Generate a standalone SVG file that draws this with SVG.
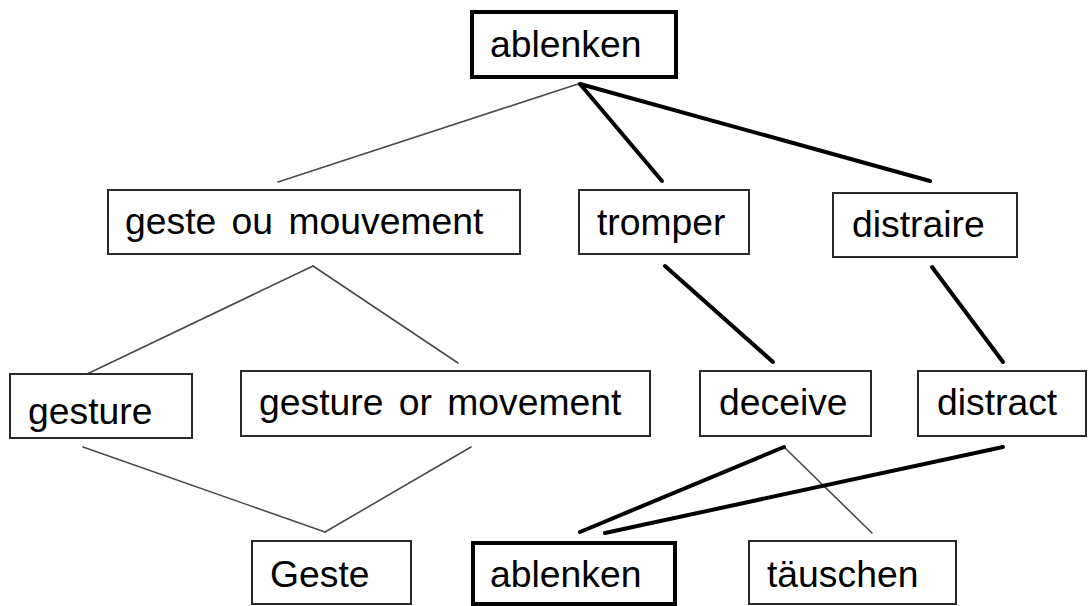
<svg xmlns="http://www.w3.org/2000/svg" width="1088" height="606" viewBox="0 0 1088 606">
  <style>
    .box { fill: #ffffff; stroke: #2a2a2a; stroke-width: 2; }
    .box.key { stroke: #000000; stroke-width: 4; }
    .lbl { font-family: "Liberation Sans", Arial, sans-serif; font-size: 37.3px; fill: #000000; word-spacing: 5px; }
    .thin { stroke: #4a4a4a; stroke-width: 1.6; fill: none; stroke-linecap: round; }
    .thick { stroke: #000000; stroke-width: 4; fill: none; stroke-linecap: round; }
  </style>
  <rect width="1088" height="606" fill="#ffffff"/>

  <!-- connectors -->
  <g id="connectors">
    <line class="thin" x1="578" y1="84" x2="278" y2="182"/>
    <line class="thick" x1="580" y1="84" x2="662" y2="181"/>
    <line class="thick" x1="580" y1="84" x2="930" y2="181"/>

    <line class="thin" x1="313" y1="266" x2="87" y2="374"/>
    <line class="thin" x1="313" y1="266" x2="458" y2="363"/>
    <line class="thick" x1="665" y1="266" x2="773" y2="362"/>
    <line class="thick" x1="932" y1="267" x2="1003" y2="362"/>

    <line class="thin" x1="83" y1="447" x2="325" y2="532"/>
    <line class="thin" x1="325" y1="532" x2="471" y2="447"/>
    <line class="thin" x1="784" y1="447" x2="872" y2="533"/>
    <line class="thick" x1="784" y1="447" x2="580" y2="532"/>
    <line class="thick" x1="1003" y1="447" x2="605" y2="533"/>
  </g>

  <!-- source word -->
  <g id="n-ablenken-top">
    <rect class="box key" x="472" y="12" width="204" height="65"/>
    <text class="lbl" x="490" y="57">ablenken</text>
  </g>

  <!-- French senses -->
  <g id="n-geste-ou-mouvement">
    <rect class="box" x="108" y="190" width="412" height="64"/>
    <text class="lbl" x="125" y="234">geste ou mouvement</text>
  </g>
  <g id="n-tromper">
    <rect class="box" x="579" y="190" width="170" height="64"/>
    <text class="lbl" x="597" y="235">tromper</text>
  </g>
  <g id="n-distraire">
    <rect class="box" x="833" y="193" width="184" height="64"/>
    <text class="lbl" x="852" y="237">distraire</text>
  </g>

  <!-- English senses -->
  <g id="n-gesture">
    <rect class="box" x="10" y="374" width="182" height="64"/>
    <text class="lbl" x="28" y="424">gesture</text>
  </g>
  <g id="n-gesture-or-movement">
    <rect class="box" x="241" y="371" width="409" height="65"/>
    <text class="lbl" x="259" y="415">gesture or movement</text>
  </g>
  <g id="n-deceive">
    <rect class="box" x="700" y="371" width="171" height="65"/>
    <text class="lbl" x="719" y="415">deceive</text>
  </g>
  <g id="n-distract">
    <rect class="box" x="918" y="371" width="168" height="65"/>
    <text class="lbl" x="937" y="415">distract</text>
  </g>

  <!-- German results -->
  <g id="n-geste">
    <rect class="box" x="252" y="541" width="159" height="63"/>
    <text class="lbl" x="270" y="587">Geste</text>
  </g>
  <g id="n-ablenken-bottom">
    <rect class="box key" x="473" y="543" width="202" height="61"/>
    <text class="lbl" x="490" y="587">ablenken</text>
  </g>
  <g id="n-taeuschen">
    <rect class="box" x="749" y="541" width="207" height="63"/>
    <text class="lbl" x="767" y="587">täuschen</text>
  </g>
</svg>
